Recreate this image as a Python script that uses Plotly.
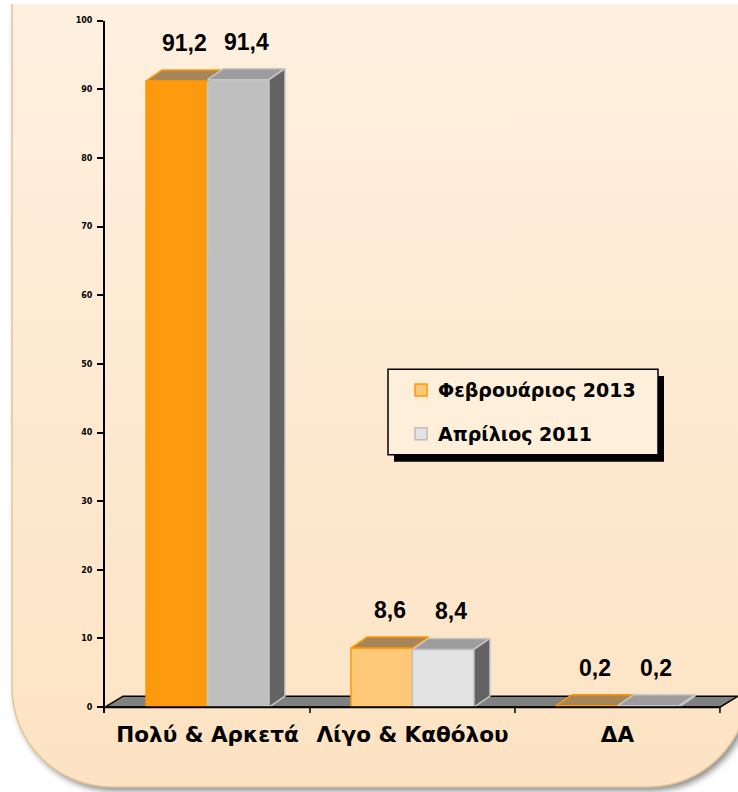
import base64
import plotly.graph_objects as go

# ---------------- data ----------------
categories = ["Πολύ & Αρκετά", "Λίγο & Καθόλου", "ΔΑ"]
series_names = ["Φεβρουάριος 2013", "Απρίλιος 2011"]
feb_2013 = [91.2, 8.6, 0.2]
apr_2011 = [91.4, 8.4, 0.2]
value_labels_feb = ["91,2", "8,6", "0,2"]
value_labels_apr = ["91,4", "8,4", "0,2"]
y_ticks = [0, 10, 20, 30, 40, 50, 60, 70, 80, 90, 100]

# ---------------- styling ----------------
W, H = 738, 792
FONT = "DejaVu Sans"
VFONT = "Liberation Sans, Arial, sans-serif"
BAR_W = 0.3
DX = 0.078          # 3D depth offset (x, category units)
DY = 1.6            # 3D depth offset (y, value units)
FLOOR_DX = 0.088

orange_front = ["#FF9A0F", "#FFC879", "#FF9A0F"]
grey_front = ["#BFBFBF", "#E3E3E3", "#BFBFBF"]
orange_top, grey_top, grey_side = "#A6855A", "#9D9D9D", "#636363"
orange_line, grey_line = "#FF9900", "#C6C6C6"

def px(x):
    return x / W

def py(y):
    return 1 - y / H

# background image (rounded panel with gradient and shadow)
svg = f'''<svg xmlns="http://www.w3.org/2000/svg" width="{W}" height="{H}" viewBox="0 0 {W} {H}">
<defs>
<linearGradient id="g" x1="0" y1="0" x2="0" y2="1">
<stop offset="0" stop-color="#FEF5EA"/>
<stop offset="1" stop-color="#FDE3C3"/>
</linearGradient>
<filter id="s" x="-10%" y="-10%" width="130%" height="130%"><feGaussianBlur stdDeviation="3"/></filter>
</defs>
<rect x="15" y="-300" width="736" height="1091" rx="100" ry="100" fill="rgba(0,0,0,0.45)" filter="url(#s)"/>
<rect x="12" y="-300" width="736" height="1087" rx="100" ry="100" fill="url(#g)" stroke="#E2C59C" stroke-width="1.5"/>
</svg>'''
bg_src = "data:image/svg+xml;base64," + base64.b64encode(svg.encode("utf-8")).decode()

fig = go.Figure()

# front faces
fig.add_trace(go.Bar(
    x=list(range(len(categories))), y=feb_2013, name=series_names[0],
    offset=-BAR_W, width=BAR_W,
    marker=dict(color=orange_front, line=dict(color=orange_line, width=1.5)),
    showlegend=False, hoverinfo="skip"))
fig.add_trace(go.Bar(
    x=list(range(len(categories))), y=apr_2011, name=series_names[1],
    offset=0, width=BAR_W,
    marker=dict(color=grey_front, line=dict(color=grey_line, width=1.5)),
    showlegend=False, hoverinfo="skip"))

def poly(xs, ys, fill, line):
    fig.add_trace(go.Scatter(
        x=xs + [xs[0]], y=ys + [ys[0]], mode="lines", fill="toself",
        fillcolor=fill, line=dict(color=line, width=1.5),
        showlegend=False, hoverinfo="skip"))

# top faces of orange, then top + side faces of grey
for i, v in enumerate(feb_2013):
    x0, x1 = i - BAR_W, i
    poly([x0, x1, x1 + DX, x0 + DX], [v, v, v + DY, v + DY], orange_top, orange_line)
for i, v in enumerate(apr_2011):
    x0, x1 = i, i + BAR_W
    poly([x0, x1, x1 + DX, x0 + DX], [v, v, v + DY, v + DY], grey_top, grey_line)
    poly([x1, x1 + DX, x1 + DX, x1], [0, DY, v + DY, v], grey_side, grey_line)

n = len(categories)
shapes = []
# floor
shapes.append(dict(
    type="path", xref="x", yref="y", layer="below",
    path=f"M {-0.5},0 L {n - 0.5},0 L {n - 0.5 + FLOOR_DX},{DY} L {-0.5 + FLOOR_DX},{DY} Z",
    fillcolor="#808080", line=dict(color="black", width=1.5)))
# x axis line and ticks
shapes.append(dict(type="line", xref="x", yref="y", x0=-0.5, x1=n - 0.5, y0=0, y1=0,
                   line=dict(color="black", width=2)))
for k in range(n):
    shapes.append(dict(type="line", xref="x", yref="y", x0=k + 0.5, x1=k + 0.5, y0=0, y1=-0.9,
                       line=dict(color="black", width=1.5)))

# legend (manual, with drop shadow)
lx0, lx1, ly0, ly1 = 388, 658, 367, 453
shapes.append(dict(type="rect", xref="paper", yref="paper",
                   x0=px(lx0 + 6), x1=px(lx1 + 6), y0=py(ly1 + 7), y1=py(ly0 + 7),
                   fillcolor="black", line=dict(width=0)))
shapes.append(dict(type="rect", xref="paper", yref="paper",
                   x0=px(lx0), x1=px(lx1), y0=py(ly1), y1=py(ly0),
                   fillcolor="#FEEFDA", line=dict(color="black", width=1.5)))
legend_items = [(series_names[0], "#FFC879", orange_line, 388),
                (series_names[1], "#E3E3E3", "#BDBDBD", 432)]
annotations = []
for name, fc, lc, yc in legend_items:
    shapes.append(dict(type="rect", xref="paper", yref="paper",
                       x0=px(415), x1=px(427), y0=py(yc + 6), y1=py(yc - 6),
                       fillcolor=fc, line=dict(color=lc, width=1.5)))
    annotations.append(dict(xref="paper", yref="paper", x=px(436), y=py(yc),
                            xanchor="left", yanchor="middle", showarrow=False, text=name,
                            font=dict(family=FONT, size=19, color="black", weight="bold")))

# value labels
for i in range(n):
    for xc, v, t in [(i - BAR_W / 2, feb_2013[i], value_labels_feb[i]),
                     (i + BAR_W / 2, apr_2011[i], value_labels_apr[i])]:
        annotations.append(dict(xref="x", yref="y", x=xc + DX / 2, y=v, yshift=38,
                                xanchor="center", yanchor="middle", showarrow=False, text=t,
                                font=dict(family=VFONT, size=23, color="black", weight="bold")))

fig.update_layout(
    width=W, height=H, autosize=False,
    margin=dict(l=0, r=0, t=0, b=0),
    paper_bgcolor="white", plot_bgcolor="rgba(0,0,0,0)",
    barmode="overlay", showlegend=False,
    xaxis=dict(domain=[105 / W, 1], range=[-0.5, n - 0.5 + FLOOR_DX],
               tickvals=list(range(n)), ticktext=categories, ticks="",
               ticklabelstandoff=6,
               showgrid=False, zeroline=False, showline=False,
               tickfont=dict(family=FONT, size=21.5, color="black", weight="bold")),
    yaxis=dict(domain=[1 - 712.9 / H, 1 - 16.7 / H], range=[-0.9, 100],
               tickvals=y_ticks, ticks="outside", ticklen=6, tickwidth=1.5, tickcolor="black",
               ticklabelstandoff=3,
               showline=True, linecolor="black", linewidth=2,
               showgrid=False, zeroline=False,
               tickfont=dict(family=FONT, size=8, color="black", weight="bold")),
    shapes=shapes, annotations=annotations,
    images=[dict(source=bg_src, xref="paper", yref="paper", x=0, y=1, sizex=1, sizey=1,
                 xanchor="left", yanchor="top", sizing="stretch", layer="below")],
)

fig.write_html("out.html", config={"displayModeBar": False},
               post_script="document.body.style.margin='0px';document.body.style.overflow='hidden';")
